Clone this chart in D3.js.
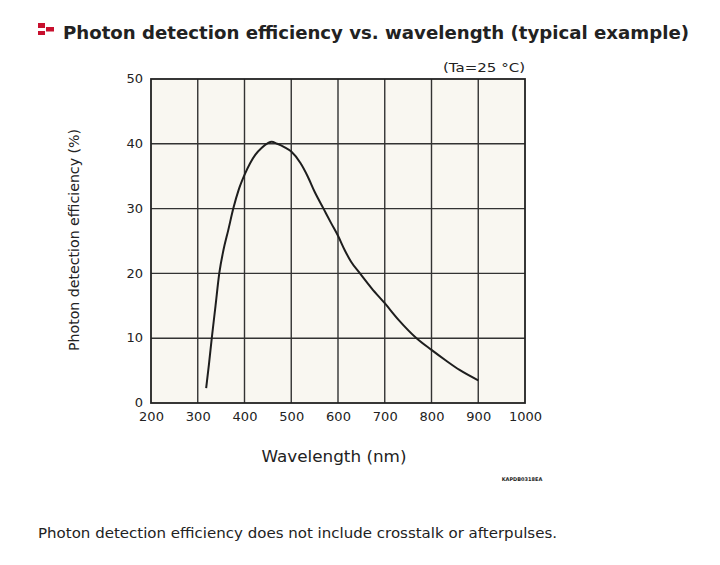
<!DOCTYPE html>
<html>
<head>
<meta charset="utf-8">
<script src="https://cdn.jsdelivr.net/npm/d3@7"></script>
<style>
  body { margin: 0; background: #fff; }
  svg text { font-family: "DejaVu Sans", Verdana, sans-serif; fill: #222; }
</style>
</head>
<body>
<script>
var width = 720;
var height = 565;
var marginLeft = 151;
var marginRight = 195;   // plot right edge at 525
var marginTop = 79;
var plotBottom = 403;

// curve: wavelength (nm) and efficiency (%)
var wavelengths = [318, 324, 330, 338, 346, 355, 365, 376, 388, 400, 412, 423, 437, 450, 458,
                   470, 485, 500, 520, 535, 550, 569, 585, 600, 615, 628, 647, 672, 700, 730,
                   768, 800, 830, 860, 900];
var efficiency = [2.3, 6, 10, 15, 20, 23.6, 26.6, 30, 33, 35.2, 37, 38.3, 39.4, 40.1, 40.3,
                  40, 39.5, 38.8, 37, 35, 32.6, 30, 27.8, 25.8, 23.5, 21.8, 20, 17.7, 15.4, 12.8,
                  10, 8.2, 6.6, 5.1, 3.5];
var xTicks = [200, 300, 400, 500, 600, 700, 800, 900, 1000];
var yTicks = [0, 10, 20, 30, 40, 50];

var data = wavelengths.map(function(w, i){ return {w: w, v: efficiency[i]}; });

var svg = d3.select("body").append("svg")
            .attr("width", width)
            .attr("height", height);

var xScale = d3.scaleLinear().domain([200, 1000]).range([marginLeft, width - marginRight]);
var yScale = d3.scaleLinear().domain([0, 50]).range([plotBottom, marginTop]);

// title with little red mark
var icon = svg.append("g").attr("fill", "#c8102e");
icon.append("rect").attr("x", 38).attr("y", 23).attr("width", 7).attr("height", 5);
icon.append("rect").attr("x", 38).attr("y", 31).attr("width", 7).attr("height", 4);
icon.append("rect").attr("x", 46).attr("y", 27).attr("width", 8).attr("height", 4.5);

svg.append("text")
   .attr("x", 63).attr("y", 39)
   .attr("font-size", 17).attr("font-weight", "bold")
   .attr("textLength", 626).attr("lengthAdjust", "spacingAndGlyphs")
   .text("Photon detection efficiency vs. wavelength (typical example)");

// plot background
svg.append("rect")
   .attr("x", xScale(200)).attr("y", yScale(50))
   .attr("width", xScale(1000) - xScale(200))
   .attr("height", yScale(0) - yScale(50))
   .attr("fill", "#f9f7f1");

// grid
svg.append("g").selectAll("line")
   .data(xTicks.slice(1, -1))
   .join("line")
     .attr("x1", d => xScale(d)).attr("x2", d => xScale(d))
     .attr("y1", yScale(50)).attr("y2", yScale(0))
     .attr("stroke", "#333").attr("stroke-width", 1.4);

svg.append("g").selectAll("line")
   .data(yTicks.slice(1, -1))
   .join("line")
     .attr("x1", xScale(200)).attr("x2", xScale(1000))
     .attr("y1", d => yScale(d)).attr("y2", d => yScale(d))
     .attr("stroke", "#333").attr("stroke-width", 1.4);

// frame
svg.append("rect")
   .attr("x", xScale(200)).attr("y", yScale(50))
   .attr("width", xScale(1000) - xScale(200))
   .attr("height", yScale(0) - yScale(50))
   .attr("fill", "none").attr("stroke", "#222").attr("stroke-width", 1.8);

// axes (labels only, the frame does the lines)
var xAxis = d3.axisBottom(xScale).tickValues(xTicks).tickFormat(d3.format("d"))
              .tickSize(0).tickPadding(9);
var yAxis = d3.axisLeft(yScale).tickValues(yTicks).tickFormat(d3.format("d"))
              .tickSize(0).tickPadding(8);

svg.append("g")
   .attr("transform", `translate(0,${plotBottom})`)
   .call(xAxis)
   .call(g => g.select(".domain").remove())
   .selectAll("text")
     .attr("font-size", 13).attr("fill", "#222")
     .style("font-family", "DejaVu Sans, Verdana, sans-serif");

svg.append("g")
   .attr("transform", `translate(${marginLeft},0)`)
   .call(yAxis)
   .call(g => g.select(".domain").remove())
   .selectAll("text")
     .attr("font-size", 13).attr("fill", "#222")
     .attr("dy", "0.28em")
     .style("font-family", "DejaVu Sans, Verdana, sans-serif");

// the curve
svg.append("path")
   .datum(data)
   .attr("fill", "none")
   .attr("stroke", "#1e1e1e")
   .attr("stroke-width", 2)
   .attr("stroke-linejoin", "round")
   .attr("d", d3.line()
     .x(d => xScale(d.w))
     .y(d => yScale(d.v))
     .curve(d3.curveMonotoneX));

// labels
svg.append("text")
   .attr("x", 525).attr("y", 72)
   .attr("text-anchor", "end").attr("font-size", 13)
   .attr("textLength", 82).attr("lengthAdjust", "spacingAndGlyphs")
   .text("(Ta=25 °C)");

svg.append("text")
   .attr("transform", "translate(79,240) rotate(-90)")
   .attr("text-anchor", "middle").attr("font-size", 14.5)
   .attr("textLength", 222).attr("lengthAdjust", "spacingAndGlyphs")
   .text("Photon detection efficiency (%)");

svg.append("text")
   .attr("x", 334).attr("y", 462)
   .attr("text-anchor", "middle").attr("font-size", 15)
   .attr("textLength", 145).attr("lengthAdjust", "spacingAndGlyphs")
   .text("Wavelength (nm)");

svg.append("text")
   .attr("x", 522).attr("y", 481)
   .attr("text-anchor", "middle").attr("font-size", 5).attr("font-weight", "bold")
   .text("KAPDB0318EA");

svg.append("text")
   .attr("x", 38).attr("y", 538)
   .attr("font-size", 14)
   .attr("textLength", 519).attr("lengthAdjust", "spacingAndGlyphs")
   .text("Photon detection efficiency does not include crosstalk or afterpulses.");
</script>
</body>
</html>
